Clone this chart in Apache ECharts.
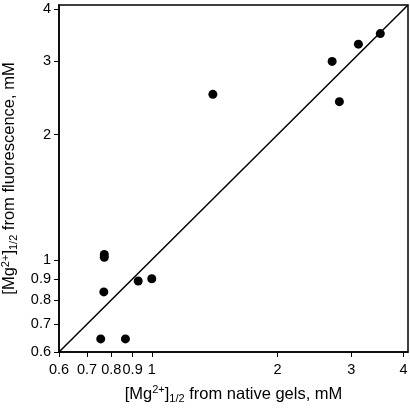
<!DOCTYPE html>
<html>
<head>
<meta charset="utf-8">
<script src="https://cdn.jsdelivr.net/npm/echarts@6/dist/echarts.min.js"></script>
<style>html,body{margin:0;padding:0;background:#fff;}#c{width:410px;height:414px;}</style>
</head>
<body>
<div id="c"></div>
<script>
// Data (real values, mM)
const nativeGels = [0.755, 0.865, 0.768, 0.770, 0.770, 0.928, 1.00, 1.40, 2.70, 2.81, 3.12, 3.52];
const fluorescence = [0.645, 0.645, 0.837, 1.014, 1.030, 0.889, 0.900, 2.50, 3.00, 2.40, 3.30, 3.50];
const tickValues = [0.6, 0.7, 0.8, 0.9, 1, 2, 3, 4];
const axisMin = 0.6;
const axisMax = 4.1;
const identityLine = [0.6, 4.1];

const L = Math.log10;
const points = nativeGels.map((x, i) => [L(x), L(fluorescence[i])]);
const linePts = identityLine.map(v => [L(v), L(v)]);
const tickLogs = tickValues.map(L);

function fmt(v) {
  const r = Math.pow(10, v);
  return String(Math.round(r * 10) / 10);
}

const font = 'Liberation Sans, Arial, sans-serif';
const rich = {
  a: {fontSize: 16.5, fontFamily: font, color: '#000'},
  sup: {fontSize: 11, fontFamily: font, color: '#000', padding: [0, 0, 8, 0]},
  sub: {fontSize: 11, fontFamily: font, color: '#000', padding: [9, 0, 0, 0]}
};

function makeAxis(name, gap, rotate, margin) {
  return {
    type: 'value',
    min: L(axisMin),
    max: L(axisMax),
    name: name,
    nameLocation: 'middle',
    nameGap: gap,
    nameRotate: rotate,
    nameTextStyle: {rich: rich},
    splitLine: {show: false},
    axisLine: {show: true, onZero: false, lineStyle: {color: '#000', width: 1.5}},
    axisTick: {show: true, inside: false, length: 5, lineStyle: {color: '#000', width: 1}, customValues: tickLogs},
    axisLabel: {show: true, customValues: tickLogs, formatter: fmt, color: '#000', fontSize: 14.5, fontFamily: font, margin: margin, hideOverlap: false}
  };
}

const chart = echarts.init(document.getElementById('c'), null, {renderer: 'canvas'});
chart.setOption({
  animation: false,
  backgroundColor: '#fff',
  grid: {left: 59, right: 2, top: 5, bottom: 62, show: true, borderColor: '#000', borderWidth: 1.5, containLabel: false, outerBoundsMode: 'none'},
  xAxis: makeAxis('{a|[Mg}{sup|2+}{a|]}{sub|1/2}{a| from native gels, mM}', 32, 0, 10),
  yAxis: makeAxis('{a|[Mg}{sup|2+}{a|]}{sub|1/2}{a| from fluorescence, mM}', 38, 90, 8),
  series: [
    {
      type: 'line',
      data: linePts,
      showSymbol: false,
      lineStyle: {color: '#000', width: 1.5},
      z: 2
    },
    {
      type: 'scatter',
      data: points,
      symbol: 'circle',
      symbolSize: 9,
      itemStyle: {color: '#000', opacity: 1},
      z: 3
    }
  ]
});
</script>
</body>
</html>
